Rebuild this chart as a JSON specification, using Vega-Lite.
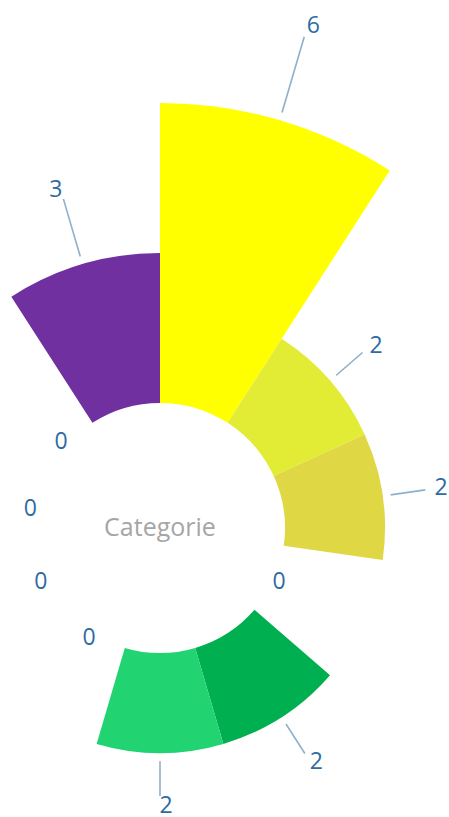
{
  "$schema": "https://vega.github.io/schema/vega-lite/v6.json",
  "width": 320,
  "height": 578,
  "autosize": {"type": "none"},
  "padding": {"left": 0, "top": 239, "right": 129, "bottom": 0},
  "background": "white",
  "config": {"view": {"stroke": null}, "font": "Open Sans"},
  "datasets": {
    "cats": [
      {"idx": 1, "category": "Categorie 01", "n": 1, "value": 6},
      {"idx": 2, "category": "Categorie 02", "n": 1, "value": 2},
      {"idx": 3, "category": "Categorie 03", "n": 1, "value": 2},
      {"idx": 4, "category": "Categorie 04", "n": 1, "value": 0},
      {"idx": 5, "category": "Categorie 05", "n": 1, "value": 2},
      {"idx": 6, "category": "Categorie 06", "n": 1, "value": 2},
      {"idx": 7, "category": "Categorie 07", "n": 1, "value": 0},
      {"idx": 8, "category": "Categorie 08", "n": 1, "value": 0},
      {"idx": 9, "category": "Categorie 09", "n": 1, "value": 0},
      {"idx": 10, "category": "Categorie 10", "n": 1, "value": 0},
      {"idx": 11, "category": "Categorie 11", "n": 1, "value": 3}
    ]
  },
  "layer": [
    {
      "data": {"name": "cats"},
      "transform": [{"stack": "n", "groupby": [], "sort": [{"field": "idx", "order": "ascending"}], "as": ["t0", "t1"]}],
      "mark": {"type": "arc", "filled": false, "padAngle": 2, "stroke": "#8DB0CC", "strokeWidth": 1.6, "radius2Offset": -100},
      "encoding": {
        "theta": {"field": "t0", "type": "quantitative", "stack": null, "scale": {"domain": [0, 11]}},
        "theta2": {"field": "t1"},
        "radius": {"field": "value", "type": "quantitative", "scale": {"type": "linear", "domain": [0, 2, 3, 6], "range": [120, 268, 343, 512], "zero": false}},
        "radius2": {"field": "value"},
        "strokeOpacity": {"condition": {"test": "datum.value > 0", "value": 1}, "value": 0}
      }
    },
    {
      "data": {"name": "cats"},
      "transform": [{"stack": "n", "groupby": [], "sort": [{"field": "idx", "order": "ascending"}], "as": ["t0", "t1"]}],
      "mark": {"type": "arc", "fill": "white", "radiusOffset": 8},
      "encoding": {
        "theta": {"field": "t0", "type": "quantitative", "stack": null, "scale": {"domain": [0, 11]}},
        "theta2": {"field": "t1"},
        "radius": {"field": "value", "type": "quantitative", "scale": {"type": "linear", "domain": [0, 6], "range": [125, 425], "zero": false}},
        "radius2": {"field": "value"}
      }
    },
    {
      "data": {"name": "cats"},
      "transform": [{"stack": "n", "groupby": [], "sort": [{"field": "idx", "order": "ascending"}], "as": ["t0", "t1"]}],
      "mark": {"type": "arc", "innerRadius": 125},
      "encoding": {
        "theta": {"field": "t0", "type": "quantitative", "stack": null, "scale": {"domain": [0, 11]}},
        "theta2": {"field": "t1"},
        "radius": {"field": "value", "type": "quantitative", "scale": {"type": "linear", "domain": [0, 6], "range": [125, 425], "zero": false}},
        "color": {
          "field": "category", "type": "nominal", "legend": null,
          "scale": {
            "domain": ["Categorie 01", "Categorie 02", "Categorie 03", "Categorie 04", "Categorie 05", "Categorie 06", "Categorie 07", "Categorie 08", "Categorie 09", "Categorie 10", "Categorie 11"],
            "range": ["#FFFF00", "#E3EC34", "#E0D744", "#5B9BD5", "#00B050", "#22D372", "#ED7D31", "#A5A5A5", "#4472C4", "#70AD47", "#7030A0"]
          }
        }
      }
    },
    {
      "data": {"name": "cats"},
      "transform": [
        {"stack": "n", "groupby": [], "sort": [{"field": "idx", "order": "ascending"}], "as": ["t0", "t1"]},
        {"filter": "datum.value == 0"}
      ],
      "mark": {"type": "text", "fontSize": 23, "color": "#2F6BA3", "align": "center", "baseline": "middle", "thetaOffset": 0.2856},
      "encoding": {
        "theta": {"field": "t0", "type": "quantitative", "stack": null, "scale": {"domain": [0, 11]}},
        "radius": {"field": "value", "type": "quantitative", "scale": {"type": "linear", "domain": [0, 2, 3, 6], "range": [131, 278, 352, 523], "zero": false}},
        "text": {"field": "value", "type": "quantitative"}
      }
    },
    {
      "data": {"name": "cats"},
      "transform": [
        {"stack": "n", "groupby": [], "sort": [{"field": "idx", "order": "ascending"}], "as": ["t0", "t1"]},
        {"filter": "datum.value > 0 && datum.idx <= 6"}
      ],
      "mark": {"type": "text", "fontSize": 23, "color": "#2F6BA3", "align": "center", "baseline": "middle", "thetaOffset": 0.2856, "dx": 6},
      "encoding": {
        "theta": {"field": "t0", "type": "quantitative", "stack": null, "scale": {"domain": [0, 11]}},
        "radius": {"field": "value", "type": "quantitative", "scale": {"type": "linear", "domain": [0, 2, 3, 6], "range": [131, 278, 352, 523], "zero": false}},
        "text": {"field": "value", "type": "quantitative"}
      }
    },
    {
      "data": {"name": "cats"},
      "transform": [
        {"stack": "n", "groupby": [], "sort": [{"field": "idx", "order": "ascending"}], "as": ["t0", "t1"]},
        {"filter": "datum.value > 0 && datum.idx > 6"}
      ],
      "mark": {"type": "text", "fontSize": 23, "color": "#2F6BA3", "align": "center", "baseline": "middle", "thetaOffset": 0.2856, "dx": -5},
      "encoding": {
        "theta": {"field": "t0", "type": "quantitative", "stack": null, "scale": {"domain": [0, 11]}},
        "radius": {"field": "value", "type": "quantitative", "scale": {"type": "linear", "domain": [0, 2, 3, 6], "range": [131, 278, 352, 523], "zero": false}},
        "text": {"field": "value", "type": "quantitative"}
      }
    },
    {
      "data": {"values": [{"label": "Categorie"}]},
      "mark": {"type": "text", "fontSize": 25, "color": "#A6A6A6", "align": "center", "baseline": "middle"},
      "encoding": {
        "text": {"field": "label", "type": "nominal"}
      }
    }
  ],
  "resolve": {"scale": {"radius": "independent"}}
}
